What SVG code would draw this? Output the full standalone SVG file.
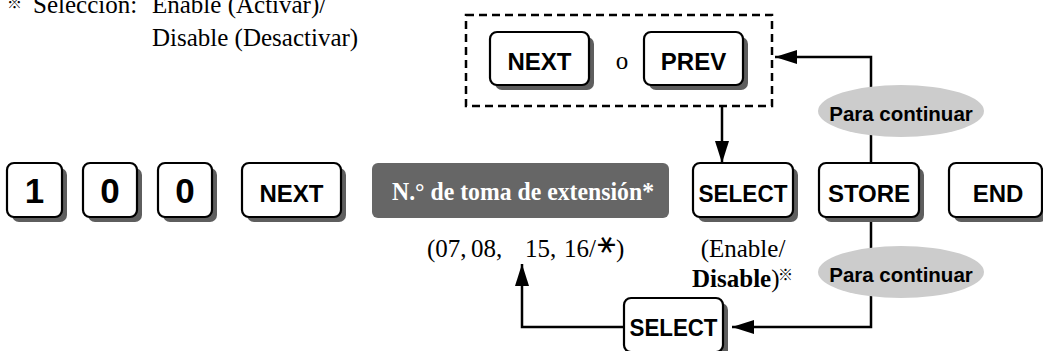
<svg xmlns="http://www.w3.org/2000/svg" width="1043" height="351" viewBox="0 0 1043 351">
<style>
.sh{fill:#5e5e5e}
.key{fill:#fff;stroke:#000;stroke-width:2.2}
.kt{font-family:"Liberation Sans",Arial,sans-serif;font-weight:bold;font-size:24px;fill:#000;text-anchor:middle}
.dg{font-family:"Liberation Sans",Arial,sans-serif;font-weight:bold;font-size:35px;fill:#000;text-anchor:middle}
.ser{font-family:"Liberation Serif","Times New Roman",serif;font-size:25px;fill:#000}
.cont{font-family:"Liberation Sans",Arial,sans-serif;font-weight:bold;font-size:20.5px;fill:#000;text-anchor:middle}
.ell{fill:#cccccc}
.ln{fill:none;stroke:#000;stroke-width:2.5}
.ref{font-family:"Noto Sans CJK JP","DejaVu Sans",sans-serif;fill:#000}
</style>
<defs>
<marker id="ah" markerUnits="userSpaceOnUse" markerWidth="23" markerHeight="15" refX="22" refY="7" orient="auto">
<path d="M0,0 L22,7 L0,14 z" fill="#000"/>
</marker>
</defs>

<g id="note">
<text class="ref" x="7" y="8" font-size="15">※</text>
<text class="ser" x="33" y="13">Selección:</text>
<text class="ser" x="152" y="13">Enable (Activar)/</text>
<text class="ser" x="152" y="46">Disable (Desactivar)</text>
</g>

<g id="connectors">
<path class="ln" d="M871,163 V57 H775" marker-end="url(#ah)"/>
<path class="ln" d="M722,106 V163" marker-end="url(#ah)"/>
<path class="ln" d="M871,217 V327 H732" marker-end="url(#ah)"/>
<path class="ln" d="M624,327 H522 V264" marker-end="url(#ah)"/>
</g>

<g id="group-next-prev">
<rect x="466" y="15" width="306" height="91" fill="none" stroke="#000" stroke-width="2.5" stroke-dasharray="8,5"/>
<text class="ser" x="622" y="69" text-anchor="middle">o</text>
</g>

<g id="key-next-top">
<rect class="sh" x="495" y="37" width="99" height="53" rx="7"/>
<rect class="key" x="490" y="32" width="99" height="53" rx="7"/>
<text class="kt" x="539.5" y="70">NEXT</text>
</g>
<g id="key-prev">
<rect class="sh" x="649" y="37" width="99" height="53" rx="7"/>
<rect class="key" x="644" y="32" width="99" height="53" rx="7"/>
<text class="kt" x="693.5" y="70">PREV</text>
</g>

<g id="key-1">
<rect class="sh" x="12" y="168" width="55" height="54" rx="7"/>
<rect class="key" x="7" y="163" width="55" height="54" rx="7"/>
<text class="dg" x="34.5" y="203">1</text>
</g>
<g id="key-0a">
<rect class="sh" x="88" y="168" width="54" height="54" rx="7"/>
<rect class="key" x="83" y="163" width="54" height="54" rx="7"/>
<text class="dg" x="110" y="203">0</text>
</g>
<g id="key-0b">
<rect class="sh" x="163" y="168" width="54" height="54" rx="7"/>
<rect class="key" x="158" y="163" width="54" height="54" rx="7"/>
<text class="dg" x="185" y="203">0</text>
</g>
<g id="key-next">
<rect class="sh" x="247" y="168" width="99" height="54" rx="7"/>
<rect class="key" x="242" y="163" width="99" height="54" rx="7"/>
<text class="kt" x="291.5" y="202">NEXT</text>
</g>

<g id="ext-number">
<rect x="372" y="163" width="297" height="55" rx="6" fill="#666"/>
<text class="ser" x="523" y="200" text-anchor="middle" font-weight="bold" style="fill:#fff" textLength="262" lengthAdjust="spacingAndGlyphs">N.° de toma de extensión*</text>
</g>

<g id="ext-values">
<text class="ser" y="257" font-size="26"><tspan x="427">(07,</tspan><tspan x="471">08,</tspan><tspan x="525">15,</tspan><tspan x="564">16/</tspan></text>
<text x="0" y="0" transform="translate(607,245) rotate(90)" font-family="DejaVu Sans,sans-serif" font-size="27" text-anchor="middle" dominant-baseline="central" fill="#000">∗</text>
<text class="ser" x="616" y="257" font-size="26">)</text>
</g>

<g id="key-select">
<rect class="sh" x="698" y="168" width="100" height="54" rx="7"/>
<rect class="key" x="693" y="163" width="100" height="54" rx="7"/>
<text class="kt" x="743" y="202" textLength="89" lengthAdjust="spacingAndGlyphs">SELECT</text>
</g>

<g id="enable-disable">
<text class="ser" x="743" y="257" text-anchor="middle" font-size="26">(Enable/</text>
<text class="ser" x="692" y="287" font-size="26"><tspan font-weight="bold">Disable</tspan>)</text>
<text class="ref" x="778" y="280" font-size="15">※</text>
</g>

<g id="key-store">
<rect class="sh" x="824" y="168" width="100" height="54" rx="7"/>
<rect class="key" x="819" y="163" width="100" height="54" rx="7"/>
<text class="kt" x="869" y="202">STORE</text>
</g>

<g id="key-end">
<rect class="sh" x="954" y="168" width="93" height="54" rx="7"/>
<rect class="key" x="949" y="163" width="93" height="54" rx="7"/>
<text class="kt" x="998" y="202">END</text>
</g>

<g id="continue-top">
<ellipse class="ell" cx="901" cy="111" rx="83" ry="26"/>
<text class="cont" x="901" y="120.5">Para continuar</text>
</g>

<g id="continue-bottom">
<ellipse class="ell" cx="901" cy="272" rx="83" ry="26"/>
<text class="cont" x="901" y="282">Para continuar</text>
</g>

<g id="key-select-bottom">
<rect class="sh" x="629" y="303" width="99" height="54" rx="7"/>
<rect class="key" x="624" y="298" width="99" height="54" rx="7"/>
<text class="kt" x="673.5" y="336" textLength="88" lengthAdjust="spacingAndGlyphs">SELECT</text>
</g>
</svg>
